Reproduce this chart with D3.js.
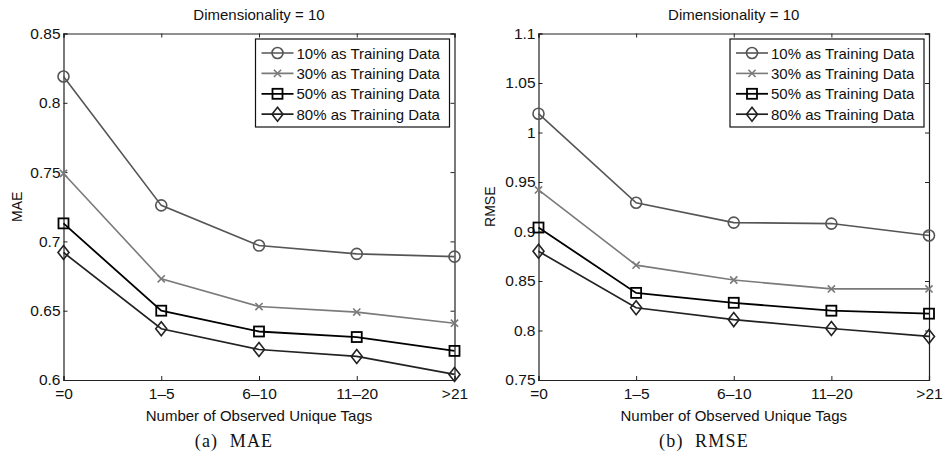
<!DOCTYPE html>
<html>
<head>
<meta charset="utf-8">
<script src="https://cdn.jsdelivr.net/npm/d3@7"></script>
<style>
  html, body { margin: 0; padding: 0; background: #fff; }
  svg { display: block; }
  text { font-family: "Liberation Sans", Arial, sans-serif; fill: #111; }
</style>
</head>
<body>
<svg id="chart" width="943" height="464"></svg>
<script>
// Tag-count buckets on the x axis
const categories = ["=0", "1\u20135", "6\u201310", "11\u201320", ">21"];
const seriesNames = ["10% as Training Data", "30% as Training Data", "50% as Training Data", "80% as Training Data"];

// MAE per training ratio
const mae10 = [0.819, 0.726, 0.697, 0.691, 0.689];
const mae30 = [0.749, 0.673, 0.653, 0.649, 0.641];
const mae50 = [0.713, 0.650, 0.635, 0.631, 0.621];
const mae80 = [0.692, 0.637, 0.622, 0.617, 0.604];

// RMSE per training ratio
const rmse10 = [1.019, 0.929, 0.909, 0.908, 0.896];
const rmse30 = [0.942, 0.866, 0.851, 0.842, 0.842];
const rmse50 = [0.904, 0.838, 0.828, 0.820, 0.817];
const rmse80 = [0.880, 0.823, 0.811, 0.802, 0.794];

const maeTicks = [0.6, 0.65, 0.7, 0.75, 0.8, 0.85];
const rmseTicks = [0.75, 0.8, 0.85, 0.9, 0.95, 1, 1.05, 1.1];

const styles = [
  { color: "#555", marker: "circle", width: 1.6 },
  { color: "#7a7a7a", marker: "x", width: 1.6 },
  { color: "#000", marker: "square", width: 1.8 },
  { color: "#222", marker: "diamond", width: 1.7 }
];

const svg = d3.select("#chart");

function drawMarker(g, type, x, y, color) {
  if (type === "circle") {
    g.append("circle").attr("cx", x).attr("cy", y).attr("r", 5.5)
      .attr("fill", "none").attr("stroke", color).attr("stroke-width", 1.6);
  } else if (type === "x") {
    const s = 3.6;
    g.append("path").attr("d", `M${x - s},${y - s}L${x + s},${y + s}M${x - s},${y + s}L${x + s},${y - s}`)
      .attr("stroke", color).attr("stroke-width", 1.6).attr("fill", "none");
  } else if (type === "square") {
    const s = 5;
    g.append("rect").attr("x", x - s).attr("y", y - s).attr("width", 2 * s).attr("height", 2 * s)
      .attr("fill", "none").attr("stroke", color).attr("stroke-width", 1.8);
  } else if (type === "diamond") {
    const w = 5.5, h = 7;
    g.append("path").attr("d", `M${x},${y - h}L${x + w},${y}L${x},${y + h}L${x - w},${y}Z`)
      .attr("fill", "none").attr("stroke", color).attr("stroke-width", 1.6);
  }
}

function panel(opts) {
  const { left, right, top, bottom, domain, ticks, series, ylabel, ylabelX, caption, captionX } = opts;
  const g = svg.append("g");

  const x = d3.scalePoint().domain(categories).range([left, right]);
  const y = d3.scaleLinear().domain(domain).range([bottom, top]);

  // Title
  g.append("text").attr("x", (left + right) / 2).attr("y", 19.5)
    .attr("text-anchor", "middle").style("font-size", "15px").text("Dimensionality = 10");

  // Axes: left/bottom carry labels, top/right mirror the ticks (inward)
  const tl = 4;
  const yAxisL = d3.axisLeft(y).tickValues(ticks).tickSize(-tl).tickPadding(3).tickFormat(d3.format("~g"));
  const yAxisR = d3.axisRight(y).tickValues(ticks).tickSize(-tl).tickFormat("");
  const xAxisB = d3.axisBottom(x).tickSize(-tl).tickPadding(8);
  const xAxisT = d3.axisTop(x).tickSize(-tl).tickFormat("");

  const axStyle = sel => {
    sel.select(".domain").attr("stroke", "#222").attr("stroke-width", 1.2);
    sel.selectAll(".tick line").attr("stroke", "#222");
    sel.selectAll("text").style("font-size", "15.5px").attr("fill", "#111")
      .style("font-family", "'Liberation Sans', Arial, sans-serif");
  };

  g.append("g").attr("transform", `translate(${left},0)`).call(yAxisL).call(axStyle);
  g.append("g").attr("transform", `translate(${right},0)`).call(yAxisR).call(axStyle);
  g.append("g").attr("transform", `translate(0,${bottom})`).call(xAxisB).call(axStyle);
  g.append("g").attr("transform", `translate(0,${top})`).call(xAxisT).call(axStyle);

  // Lines and markers
  const line = d3.line().x((d, i) => x(categories[i])).y(d => y(d));
  series.forEach((vals, si) => {
    const st = styles[si];
    g.append("path").datum(vals).attr("d", line).attr("fill", "none")
      .attr("stroke", st.color).attr("stroke-width", st.width);
    vals.forEach((v, i) => drawMarker(g, st.marker, x(categories[i]), y(v), st.color));
  });

  // Legend
  const lx = right - 199, ly = top + 5.5, lw = 194, lh = 88;
  const lg = g.append("g");
  lg.append("rect").attr("x", lx).attr("y", ly).attr("width", lw).attr("height", lh)
    .attr("fill", "#fff").attr("stroke", "#111").attr("stroke-width", 1.2);
  seriesNames.forEach((name, i) => {
    const cy = ly + 14 + i * 20.4;
    const st = styles[i];
    lg.append("line").attr("x1", lx + 6).attr("x2", lx + 38).attr("y1", cy).attr("y2", cy)
      .attr("stroke", st.color).attr("stroke-width", st.width);
    drawMarker(lg, st.marker, lx + 22, cy, st.color);
    lg.append("text").attr("x", lx + 41).attr("y", cy + 5.5).style("font-size", "15px").text(name);
  });

  // Axis titles
  g.append("text").attr("x", (left + right) / 2).attr("y", 421)
    .attr("text-anchor", "middle").style("font-size", "15px").text("Number of Observed Unique Tags");
  g.append("text").attr("transform", `translate(${ylabelX},${(top + bottom) / 2}) rotate(-90)`)
    .attr("text-anchor", "middle").style("font-size", "14px").text(ylabel);

  // Caption
  g.append("text").attr("x", captionX).attr("y", 447).attr("text-anchor", "middle")
    .style("font-family", "'Liberation Serif', 'Times New Roman', serif")
    .style("font-size", "18px").style("letter-spacing", "1.2px")
    .text(caption);
}

panel({
  left: 63.5, right: 454.5, top: 33.5, bottom: 380,
  domain: [0.6, 0.85], ticks: maeTicks,
  series: [mae10, mae30, mae50, mae80],
  ylabel: "MAE", ylabelX: 22, caption: "(a)\u00a0\u00a0MAE", captionX: 234
});

panel({
  left: 538.5, right: 929, top: 33.5, bottom: 380,
  domain: [0.75, 1.1], ticks: rmseTicks,
  series: [rmse10, rmse30, rmse50, rmse80],
  ylabel: "RMSE", ylabelX: 495, caption: "(b)\u00a0\u00a0RMSE", captionX: 704
});
</script>
</body>
</html>
